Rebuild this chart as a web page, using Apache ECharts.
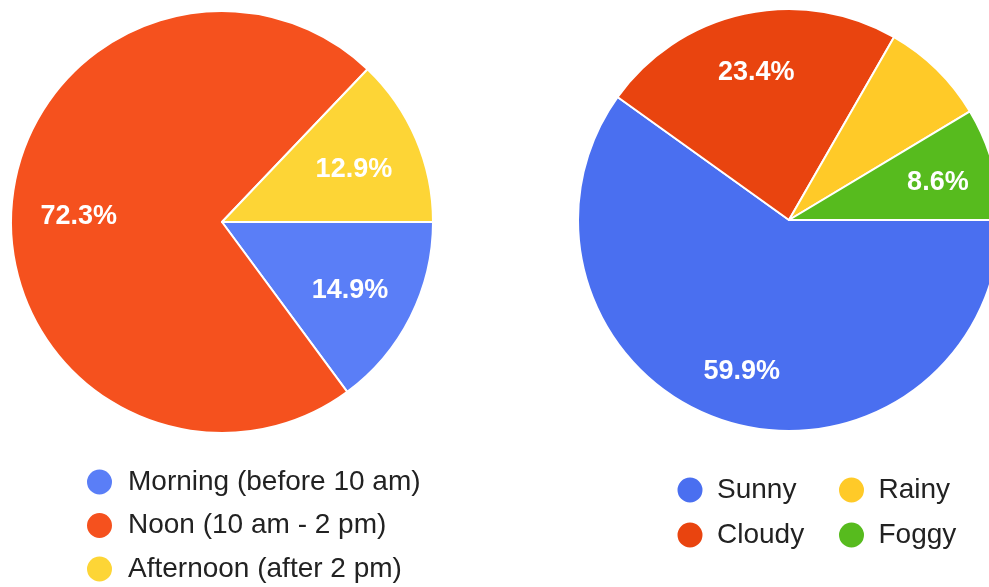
<!DOCTYPE html>
<html>
<head>
<meta charset="utf-8">
<script src="https://cdn.jsdelivr.net/npm/echarts@6/dist/echarts.min.js"></script>
<style>
html, body { margin: 0; padding: 0; background: #fff; }
#main { width: 989px; height: 587px; }
</style>
</head>
<body>
<div id="main"></div>
<script>
// data
var timeNames = ['Morning (before 10 am)', 'Noon (10 am - 2 pm)', 'Afternoon (after 2 pm)'];
var timeValues = [14.9, 72.3, 12.9];
var timeColors = ['#5A7EF7', '#F5511E', '#FDD536'];

var weatherNames = ['Sunny', 'Cloudy', 'Rainy', 'Foggy'];
var weatherValues = [59.9, 23.4, 8.1, 8.6];
var weatherColors = ['#4A6FF0', '#E9440F', '#FFCA28', '#57BB1E'];
var weatherNoLabel = ['Rainy'];

var FONT = '"Liberation Sans", Arial, sans-serif';

var myChart = echarts.init(document.getElementById('main'));

function makeData(names, values, colors, noLabel) {
  return names.map(function (n, i) {
    var d = { name: n, value: values[i], itemStyle: { color: colors[i] } };
    if (noLabel && noLabel.indexOf(n) >= 0) d.label = { show: false };
    return d;
  });
}

function pieSeries(center, labelInner, names, values, colors, noLabel) {
  // the real slices
  var slices = {
    type: 'pie',
    center: center,
    radius: 211,
    startAngle: 0,
    clockwise: true,
    silent: true,
    label: { show: false },
    labelLine: { show: false },
    itemStyle: { borderColor: '#fff', borderWidth: 2 },
    emphasis: { disabled: true },
    data: makeData(names, values, colors)
  };
  // transparent ring, only there to place the labels further out
  var labels = {
    type: 'pie',
    center: center,
    radius: [labelInner, 211],
    startAngle: 0,
    clockwise: true,
    silent: true,
    itemStyle: { color: 'rgba(0,0,0,0)', borderWidth: 0 },
    emphasis: { disabled: true },
    labelLine: { show: false },
    label: {
      show: true,
      position: 'inside',
      color: '#fff',
      fontSize: 27,
      fontWeight: 'bold',
      fontFamily: FONT,
      offset: [0, 4],
      formatter: function (p) { return p.value.toFixed(1) + '%'; }
    },
    data: makeData(names, values, colors, noLabel).map(function (d) {
      d.itemStyle = { color: 'rgba(0,0,0,0)' };
      return d;
    })
  };
  return [slices, labels];
}

var legendBase = {
  orient: 'vertical',
  icon: 'circle',
  itemHeight: 27,
  selectedMode: false,
  textStyle: { fontSize: 28, lineHeight: 27, color: '#222', fontFamily: FONT }
};

var option = {
  animation: false,
  backgroundColor: '#fff',
  legend: [
    Object.assign({}, legendBase, { left: 80, top: 462.5, height: 124, itemWidth: 47, itemGap: 14.5, data: timeNames }),
    Object.assign({}, legendBase, { left: 670.5, top: 470.5, itemWidth: 44, itemGap: 16, data: ['Sunny', 'Cloudy'] }),
    Object.assign({}, legendBase, { left: 832, top: 470.5, itemWidth: 44, itemGap: 16, data: ['Rainy', 'Foggy'] })
  ],
  series: []
    .concat(pieSeries([222, 222], 70, timeNames, timeValues, timeColors))
    .concat(pieSeries([789, 220], 92, weatherNames, weatherValues, weatherColors, weatherNoLabel))
};

myChart.setOption(option);
</script>
</body>
</html>
